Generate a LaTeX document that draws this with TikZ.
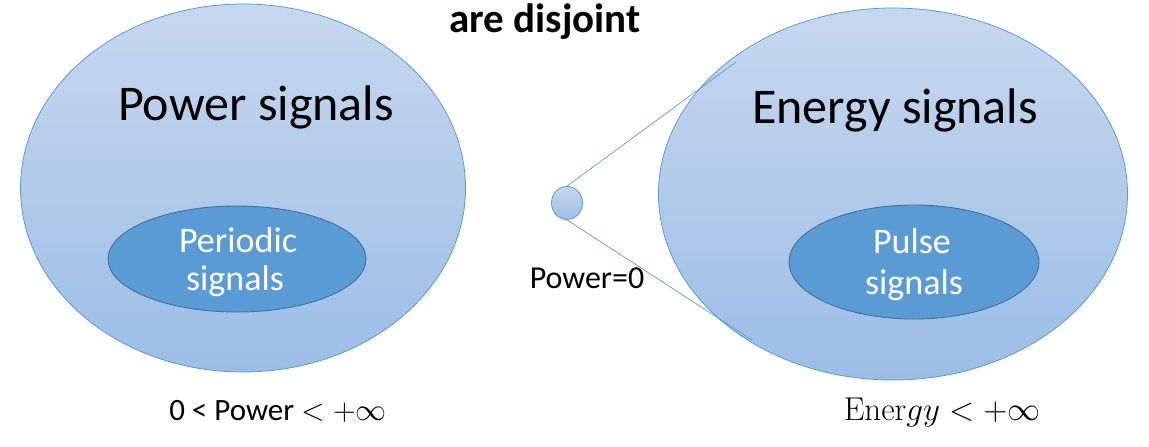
\RequirePackage{fix-cm}
\documentclass[tikz,border=0pt]{standalone}
\usepackage[no-math]{fontspec}
\setmainfont{Carlito}
\usetikzlibrary{shapes.geometric}
\definecolor{lineblue}{HTML}{5B9BD5}
\definecolor{topblue}{HTML}{C6D8EF}
\definecolor{botblue}{HTML}{9CBDE6}
\definecolor{innerfill}{HTML}{5B9BD5}
\definecolor{innerline}{HTML}{41719C}
\tikzset{
  bigset/.style={ellipse, draw=lineblue, line width=0.8pt, top color=topblue, bottom color=botblue, inner sep=0pt},
  subset/.style={ellipse, draw=innerline, line width=0.9pt, fill=innerfill, inner sep=0pt},
  zoomline/.style={draw=lineblue, line width=0.7pt},
  lbl/.style={inner sep=0pt, text=black},
  sublbl/.style={inner sep=0pt, text=white, font=\fontsize{36}{40}\selectfont}
}
\begin{document}
\begin{tikzpicture}[x=1pt,y=-1pt]
\useasboundingbox (0,0) rectangle (1149,447);
% title
\node[lbl, font=\fontsize{41}{46}\bfseries\selectfont] (title) at (545,22) {are disjoint};
% power signals
\node[bigset, minimum width=445pt, minimum height=368pt] (pow) at (243,188) {};
\node[lbl, font=\fontsize{50}{56}\selectfont] (powt) at (256,107) {Power signals};
\node[subset, minimum width=258pt, minimum height=106pt] (per) at (237,259) {};
\node[sublbl] (pert1) at (238,240) {Periodic};
\node[sublbl] (pert2) at (235,281) {signals};
% energy signals
\node[bigset, minimum width=469pt, minimum height=372pt] (en) at (893,194) {};
\node[lbl, font=\fontsize{50}{56}\selectfont] (ent) at (895,110) {Energy signals};
\node[subset, minimum width=250pt, minimum height=114pt] (pul) at (914,262) {};
\node[sublbl] (pult1) at (912,241) {Pulse};
\node[sublbl] (pult2) at (914,285) {signals};
% small zero-power set
\node[ellipse, draw=lineblue, line width=0.8pt, top color=topblue, bottom color=botblue, minimum width=31pt, minimum height=33pt, inner sep=0pt] (zero) at (567,203) {};
\coordinate (z1) at (736,62);
\coordinate (z2) at (752,340);
\draw[zoomline] (zero.north) -- (z1);
\draw[zoomline] (zero.south) -- (z2);
\node[lbl, font=\fontsize{32}{36}\selectfont] (pz) at (587,278) {Power=0};
% bottom labels
\node[lbl, font=\fontsize{31}{36}\selectfont] (pcond) at (278,411) {0 < Power $< +\infty$};
\node[lbl, font=\fontsize{33}{38}\selectfont] (econd) at (942,412) {$\mathrm{Ener}gy < +\infty$};
\end{tikzpicture}
\end{document}
